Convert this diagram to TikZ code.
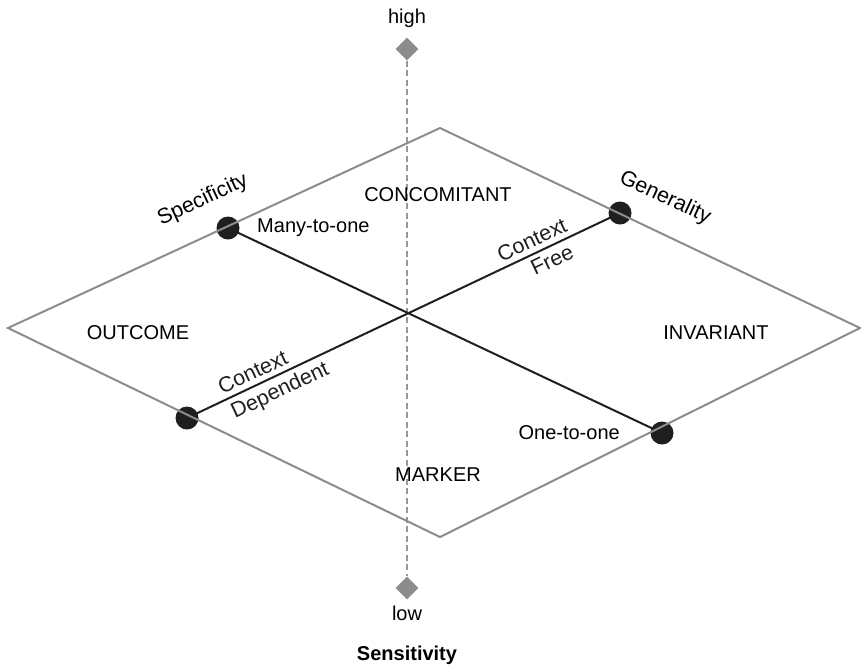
\documentclass[tikz,border=0pt]{standalone}
\usepackage{fontspec}
\setmainfont{Liberation Sans}
\usepackage{tikz}
\usetikzlibrary{
    positioning,
    shapes.geometric
}
\definecolor{framegray}{RGB}{140,140,140}
\definecolor{axisgray}{RGB}{152,152,152}
\tikzset{
    lbl/.style={font=\fontsize{20}{24}\selectfont},
    biglbl/.style={font=\fontsize{21.5}{26}\selectfont},
    boldlbl/.style={font=\fontsize{20}{24}\selectfont\bfseries},
    dot/.style={circle, fill=black!88, inner sep=0pt, minimum size=23pt},
    tip/.style={diamond, fill=framegray, inner sep=0pt, minimum width=23pt, minimum height=23pt},
    frame/.style={framegray, line width=2pt},
    link/.style={black!88, line width=2pt},
    axis/.style={axisgray, line width=2pt, dash pattern=on 6pt off 3.5pt}
}

\begin{document}
\begin{tikzpicture}[x=1pt, y=-1pt]
        \useasboundingbox (0,0) rectangle (861,665);
        % ひし形の頂点
        \coordinate (T) at (440,128);
        \coordinate (R) at (860,328);
        \coordinate (B) at (440,537);
        \coordinate (L) at (8,328);

        % 感度の軸
        \node[tip] (high) at (407,49) {};
        \node[tip] (low) at (407,588) {};
        \draw[axis] (high) -- (low);
        \node[lbl] (hightext) at (407,18) {high};
        \node[lbl] (lowtext) at (407,613) {low};
        \node[boldlbl] (sens) at (407,655) {Sensitivity};

        % 端点
        \node[dot] (spec) at (228,228) {};
        \node[dot] (gen) at (620,213) {};
        \node[dot] (dep) at (187,418) {};
        \node[dot] (one) at (662,433) {};

        \draw[link] (spec.center) -- (one.center);
        \draw[link] (dep.center) -- (gen.center)
            node[biglbl, sloped, above=1.5pt, pos=0.165] (ctxdep) {Context}
            node[biglbl, sloped, below=1.5pt, pos=0.2] (dependent) {Dependent}
            node[biglbl, sloped, above=1.5pt, pos=0.81] (ctxfree) {Context}
            node[biglbl, sloped, below=1.5pt, pos=0.83] (free) {Free};

        \draw[frame] (T) -- (R) -- (B) -- (L) -- cycle;

        \node[lbl] (conc) at (438,195) {CONCOMITANT};
        \node[lbl] (outc) at (138,333) {OUTCOME};
        \node[lbl] (inv) at (716,333) {INVARIANT};
        \node[lbl] (mark) at (438,475) {MARKER};

        \node[lbl, right=14pt of spec] (many) {Many-to-one};
        \node[lbl, left=27pt of one] (onetoone) {One-to-one};
        \node[biglbl, rotate=25] (specl) at (203,200) {Specificity};
        \node[biglbl, rotate=-25] (genl) at (665,198) {Generality};
    \end{tikzpicture}
\end{document}
